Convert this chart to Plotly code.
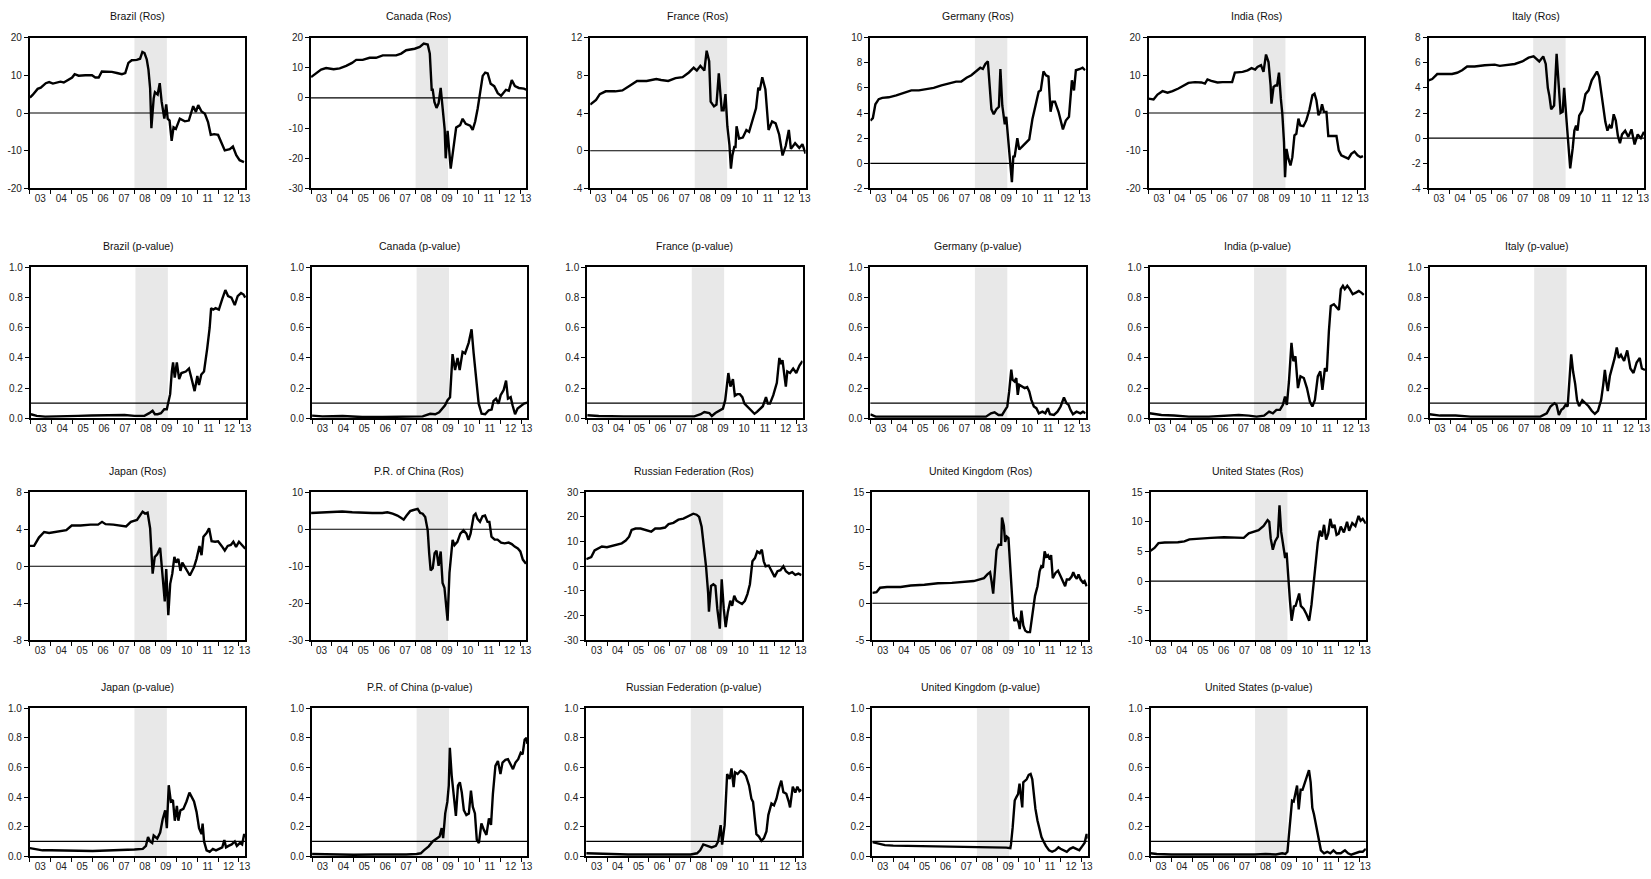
import plotly.graph_objects as go
from plotly.subplots import make_subplots

# crisis window shaded in every panel
crisis_start = 2008.0
crisis_end = 2009.55

years = list(range(2003, 2014))
year_labels = ["03", "04", "05", "06", "07", "08", "09", "10", "11", "12", "13"]

# ---- Ros series (time in years, value) ----
brazil_ros = [(2003.0, 4.1), (2003.13, 4.8), (2003.37, 6.4), (2003.52, 6.7), (2003.76, 7.9), (2003.92, 8.2),
              (2004.1, 7.8), (2004.3, 8.1), (2004.46, 8.3), (2004.62, 8.1), (2004.86, 9.0), (2005.02, 9.4),
              (2005.14, 10.3), (2005.33, 9.9), (2005.65, 10.0), (2005.97, 10.0), (2006.13, 9.4), (2006.29, 9.4),
              (2006.44, 11.0), (2006.68, 11.0), (2006.92, 10.9), (2007.16, 10.6), (2007.4, 10.3), (2007.56, 10.6),
              (2007.71, 13.3), (2007.87, 14.0), (2008.11, 14.1), (2008.27, 14.4), (2008.38, 16.2), (2008.48, 15.9),
              (2008.59, 14.2), (2008.67, 11.5), (2008.75, 6.5), (2008.81, -4.0), (2008.92, 3.9), (2008.98, 5.5),
              (2009.11, 4.9), (2009.21, 7.9), (2009.3, 3.0), (2009.43, -1.5), (2009.52, 2.3), (2009.59, -1.5),
              (2009.68, -2.0), (2009.78, -7.4), (2009.87, -3.8), (2009.98, -4.2), (2010.17, -1.5), (2010.41, -2.2),
              (2010.6, -2.0), (2010.81, 1.8), (2010.94, 0.3), (2011.05, 2.1), (2011.21, 0.4), (2011.37, -0.2),
              (2011.52, -2.4), (2011.65, -5.8), (2011.81, -5.6), (2012.0, -5.8), (2012.19, -8.3), (2012.32, -9.9),
              (2012.56, -9.6), (2012.71, -8.9), (2012.87, -11.2), (2013.03, -12.5), (2013.24, -13.0)]

canada_ros = [(2003.0, 6.9), (2003.24, 8.1), (2003.48, 9.4), (2003.72, 9.9), (2004.08, 9.5), (2004.37, 9.8),
              (2004.68, 10.6), (2004.96, 11.6), (2005.16, 12.6), (2005.47, 12.6), (2005.8, 13.3), (2006.11, 13.3),
              (2006.43, 14.1), (2006.76, 14.1), (2007.07, 14.1), (2007.31, 14.7), (2007.55, 15.8), (2007.96, 16.3),
              (2008.2, 16.9), (2008.39, 18.0), (2008.58, 17.7), (2008.68, 14.7), (2008.77, 2.7), (2008.82, 2.7),
              (2008.9, -1.3), (2009.0, -3.3), (2009.1, -1.8), (2009.2, 3.3), (2009.29, -3.3), (2009.39, -10.3),
              (2009.44, -20.0), (2009.53, -10.9), (2009.68, -23.4), (2009.82, -14.9), (2009.94, -9.8), (2010.13, -9.0),
              (2010.25, -6.9), (2010.4, -8.6), (2010.61, -9.2), (2010.73, -10.6), (2010.85, -7.8), (2010.97, -3.5),
              (2011.09, 2.2), (2011.21, 7.3), (2011.33, 8.4), (2011.45, 8.1), (2011.59, 4.7), (2011.76, 3.9),
              (2011.93, 1.6), (2012.09, 0.7), (2012.32, 2.7), (2012.46, 2.4), (2012.6, 5.9), (2012.75, 3.9),
              (2012.94, 3.3), (2013.18, 3.1), (2013.3, 2.7)]

france_ros = [(2003.0, 4.9), (2003.28, 5.4), (2003.46, 6.0), (2003.74, 6.3), (2004.2, 6.3), (2004.54, 6.4),
              (2004.89, 6.9), (2005.24, 7.4), (2005.7, 7.4), (2006.16, 7.6), (2006.39, 7.5), (2006.73, 7.4),
              (2007.08, 7.7), (2007.42, 7.8), (2007.72, 8.3), (2007.95, 8.8), (2008.1, 8.5), (2008.27, 9.0),
              (2008.46, 8.5), (2008.57, 10.6), (2008.69, 9.5), (2008.76, 5.2), (2008.92, 4.7), (2009.04, 4.9),
              (2009.15, 8.2), (2009.29, 4.3), (2009.38, 4.3), (2009.47, 6.0), (2009.56, 2.6), (2009.66, 0.6),
              (2009.73, -1.9), (2009.8, -0.5), (2009.89, 0.4), (2009.95, 0.4), (2010.0, 2.6), (2010.12, 1.3),
              (2010.3, 1.4), (2010.47, 2.2), (2010.6, 2.0), (2010.76, 3.3), (2010.93, 4.5), (2011.04, 6.7),
              (2011.11, 6.4), (2011.23, 7.8), (2011.38, 6.5), (2011.53, 2.2), (2011.7, 3.1), (2011.87, 2.9),
              (2012.04, 1.7), (2012.2, -0.5), (2012.35, 0.5), (2012.5, 2.2), (2012.6, 0.2), (2012.8, 0.8),
              (2013.0, 0.3), (2013.15, 0.7), (2013.3, -0.3)]

germany_ros = [(2003.0, 3.4), (2003.12, 3.6), (2003.24, 4.7), (2003.4, 5.1), (2003.57, 5.2), (2003.88, 5.25),
               (2004.24, 5.4), (2004.6, 5.6), (2004.96, 5.8), (2005.32, 5.8), (2005.68, 5.9), (2006.03, 6.0),
               (2006.4, 6.2), (2006.76, 6.35), (2007.1, 6.5), (2007.35, 6.5), (2007.6, 6.8), (2007.83, 7.0),
               (2008.07, 7.3), (2008.26, 7.6), (2008.38, 7.5), (2008.5, 7.9), (2008.62, 8.1), (2008.69, 6.7),
               (2008.79, 4.3), (2008.9, 3.9), (2009.03, 4.3), (2009.15, 4.5), (2009.22, 7.5), (2009.31, 4.6),
               (2009.43, 3.1), (2009.5, 3.7), (2009.58, 2.2), (2009.67, 0.1), (2009.77, -1.5), (2009.84, 0.6),
               (2009.9, 0.5), (2010.03, 2.0), (2010.12, 1.1), (2010.27, 1.35), (2010.46, 1.7), (2010.6, 1.9),
               (2010.75, 3.5), (2010.9, 4.6), (2011.05, 5.7), (2011.15, 5.8), (2011.28, 7.3), (2011.4, 7.0),
               (2011.52, 6.9), (2011.62, 4.1), (2011.71, 4.9), (2011.83, 4.9), (2012.0, 4.1), (2012.21, 2.7),
               (2012.35, 3.4), (2012.5, 3.7), (2012.64, 6.6), (2012.74, 5.8), (2012.83, 7.4), (2013.03, 7.5),
               (2013.15, 7.6), (2013.27, 7.4)]

india_ros = [(2003.0, 3.8), (2003.24, 3.6), (2003.43, 4.9), (2003.67, 5.8), (2003.91, 5.4), (2004.15, 5.8),
             (2004.43, 6.5), (2004.67, 7.3), (2004.91, 8.0), (2005.22, 8.2), (2005.53, 8.1), (2005.7, 7.8),
             (2005.82, 8.9), (2006.0, 8.5), (2006.3, 8.1), (2006.54, 8.2), (2006.78, 8.1), (2007.0, 8.2),
             (2007.13, 10.7), (2007.5, 10.9), (2007.74, 11.3), (2007.93, 11.9), (2008.1, 11.5), (2008.21, 12.2),
             (2008.38, 12.7), (2008.5, 10.9), (2008.62, 15.5), (2008.74, 13.5), (2008.84, 7.3), (2008.88, 2.5),
             (2008.98, 6.9), (2009.07, 7.3), (2009.15, 7.3), (2009.24, 10.7), (2009.33, 3.8), (2009.4, -0.2),
             (2009.48, -7.7), (2009.53, -17.0), (2009.6, -9.5), (2009.69, -12.1), (2009.79, -13.9), (2009.88, -11.7),
             (2009.98, -5.9), (2010.07, -5.5), (2010.17, -1.5), (2010.26, -3.3), (2010.41, -3.5), (2010.55, -1.9),
             (2010.7, 1.0), (2010.84, 4.7), (2010.94, 5.1), (2011.03, 3.4), (2011.13, -0.6), (2011.22, 0.3),
             (2011.3, 2.3), (2011.39, 0.3), (2011.51, 0.3), (2011.6, -6.1), (2011.8, -6.1), (2011.99, -6.1),
             (2012.1, -9.9), (2012.22, -11.2), (2012.4, -11.7), (2012.56, -12.1), (2012.7, -10.8), (2012.85, -10.2),
             (2013.0, -11.2), (2013.14, -11.7), (2013.26, -11.4)]

italy_ros = [(2003.0, 4.6), (2003.17, 4.7), (2003.41, 5.1), (2003.76, 5.1), (2004.12, 5.1), (2004.36, 5.2),
             (2004.6, 5.4), (2004.84, 5.7), (2005.2, 5.7), (2005.68, 5.8), (2006.16, 5.85), (2006.4, 5.75),
             (2006.76, 5.85), (2007.12, 5.9), (2007.48, 6.1), (2007.78, 6.4), (2008.02, 6.5), (2008.17, 6.3),
             (2008.29, 6.1), (2008.48, 6.5), (2008.6, 5.9), (2008.7, 4.0), (2008.77, 3.4), (2008.86, 2.3),
             (2009.0, 2.6), (2009.12, 6.7), (2009.24, 3.4), (2009.31, 2.0), (2009.41, 2.1), (2009.48, 4.0),
             (2009.6, 1.3), (2009.67, -0.3), (2009.77, -2.4), (2009.89, -0.8), (2009.97, 0.6), (2010.05, 1.0),
             (2010.12, 0.6), (2010.2, 1.8), (2010.35, 2.2), (2010.5, 3.5), (2010.65, 3.8), (2010.8, 4.6),
             (2010.95, 5.0), (2011.05, 5.3), (2011.15, 4.9), (2011.25, 3.8), (2011.35, 2.5), (2011.45, 1.3),
             (2011.55, 0.6), (2011.65, 1.0), (2011.75, 0.8), (2011.85, 1.9), (2011.95, 1.4), (2012.05, 0.2),
             (2012.15, -0.4), (2012.25, 0.3), (2012.4, 0.6), (2012.55, 0.1), (2012.7, 0.7), (2012.85, -0.5),
             (2013.0, 0.3), (2013.15, 0.0), (2013.3, 0.5)]

japan_ros = [(2003.0, 2.2), (2003.2, 2.2), (2003.43, 3.1), (2003.68, 3.7), (2003.92, 3.6), (2004.16, 3.7),
             (2004.45, 3.75), (2004.74, 3.9), (2005.0, 4.4), (2005.42, 4.4), (2005.9, 4.5), (2006.26, 4.5),
             (2006.45, 4.8), (2006.62, 4.55), (2006.99, 4.5), (2007.35, 4.4), (2007.6, 4.3), (2007.83, 4.8),
             (2008.12, 5.0), (2008.27, 5.5), (2008.39, 5.9), (2008.51, 5.7), (2008.63, 5.8), (2008.75, 4.1),
             (2008.87, -0.8), (2008.97, 1.0), (2009.09, 1.3), (2009.23, 2.0), (2009.33, -0.5), (2009.45, -3.8),
             (2009.52, -0.3), (2009.62, -5.3), (2009.71, -1.9), (2009.81, -0.8), (2009.91, 1.0), (2010.0, 0.4),
             (2010.1, 0.8), (2010.2, -0.5), (2010.29, 0.4), (2010.43, -0.1), (2010.65, -1.0), (2010.85, -0.1),
             (2010.97, 0.8), (2011.11, 2.2), (2011.21, 1.2), (2011.3, 3.2), (2011.45, 3.6), (2011.57, 4.1),
             (2011.69, 2.7), (2011.86, 2.65), (2012.0, 2.7), (2012.17, 2.2), (2012.32, 1.7), (2012.46, 2.2),
             (2012.61, 2.3), (2012.73, 2.65), (2012.86, 2.1), (2013.0, 2.65), (2013.14, 2.3), (2013.3, 1.9)]

china_ros = [(2003.0, 4.4), (2003.77, 4.6), (2004.49, 4.8), (2004.97, 4.6), (2005.45, 4.4), (2005.93, 4.4),
             (2006.41, 4.4), (2006.65, 4.6), (2006.9, 4.2), (2007.13, 3.7), (2007.3, 3.1), (2007.43, 2.6),
             (2007.57, 3.7), (2007.74, 4.9), (2007.9, 5.2), (2008.1, 5.5), (2008.22, 4.4), (2008.34, 4.2),
             (2008.46, 3.3), (2008.58, -0.3), (2008.65, -6.5), (2008.72, -11.1), (2008.82, -10.5), (2008.91, -6.5),
             (2009.0, -5.8), (2009.1, -9.9), (2009.2, -6.0), (2009.29, -14.5), (2009.38, -15.8), (2009.48, -20.7),
             (2009.53, -24.7), (2009.62, -11.8), (2009.77, -2.9), (2009.86, -4.3), (2010.0, -3.4), (2010.14, -1.2),
             (2010.29, -0.3), (2010.43, -1.2), (2010.53, -2.9), (2010.63, -1.2), (2010.78, 3.7), (2010.87, 4.2),
             (2010.96, 2.8), (2011.08, 2.0), (2011.2, 3.5), (2011.32, 3.7), (2011.44, 2.0), (2011.53, 2.0),
             (2011.63, -2.0), (2011.78, -2.8), (2011.92, -2.8), (2012.09, -3.6), (2012.26, -3.8), (2012.45, -3.6),
             (2012.6, -4.0), (2012.74, -4.7), (2012.89, -5.2), (2013.01, -6.0), (2013.13, -8.2), (2013.28, -9.3)]

russia_ros = [(2003.0, 2.9), (2003.24, 3.7), (2003.4, 6.4), (2003.59, 7.3), (2003.75, 8.0), (2003.99, 7.7),
              (2004.23, 8.3), (2004.51, 9.1), (2004.7, 9.3), (2004.89, 10.4), (2005.05, 12.0), (2005.17, 14.7),
              (2005.36, 15.3), (2005.6, 15.3), (2005.88, 14.7), (2006.11, 14.0), (2006.3, 15.3), (2006.54, 15.3),
              (2006.77, 15.7), (2006.94, 17.1), (2007.17, 17.6), (2007.41, 18.9), (2007.65, 19.3), (2007.81, 20.0),
              (2007.95, 20.9), (2008.12, 21.3), (2008.28, 20.9), (2008.4, 20.0), (2008.52, 16.0), (2008.64, 8.0),
              (2008.73, 0.0), (2008.83, -10.7), (2008.87, -18.4), (2008.97, -8.0), (2009.08, -7.3), (2009.18, -8.0),
              (2009.27, -17.3), (2009.39, -25.3), (2009.48, -5.3), (2009.58, -17.3), (2009.67, -24.7), (2009.77, -18.7),
              (2009.89, -14.0), (2009.98, -16.0), (2010.08, -12.0), (2010.19, -14.0), (2010.31, -14.7), (2010.45, -15.3),
              (2010.59, -14.0), (2010.71, -11.3), (2010.83, -7.3), (2010.95, 2.0), (2011.07, 3.3), (2011.18, 6.0),
              (2011.3, 5.3), (2011.4, 6.7), (2011.49, 2.0), (2011.58, 0.0), (2011.73, 0.3), (2011.89, -2.0),
              (2012.01, -4.3), (2012.15, -2.0), (2012.29, -1.6), (2012.43, 0.0), (2012.55, -2.0), (2012.7, -3.0),
              (2012.85, -2.4), (2013.0, -3.5), (2013.15, -3.0), (2013.3, -3.6)]

uk_ros = [(2003.0, 1.4), (2003.2, 1.5), (2003.37, 2.1), (2003.7, 2.2), (2004.35, 2.2), (2004.84, 2.4),
          (2005.49, 2.5), (2006.14, 2.7), (2006.8, 2.75), (2007.45, 2.85), (2007.85, 3.0), (2008.1, 3.2),
          (2008.34, 3.4), (2008.5, 3.9), (2008.63, 4.2), (2008.7, 3.0), (2008.78, 1.3), (2008.88, 5.0),
          (2008.94, 7.2), (2009.04, 7.9), (2009.16, 7.9), (2009.2, 11.6), (2009.29, 10.5), (2009.35, 8.3),
          (2009.43, 9.0), (2009.51, 8.8), (2009.6, 5.0), (2009.66, 1.4), (2009.73, -1.2), (2009.79, -2.4),
          (2009.89, -2.1), (2009.99, -2.6), (2010.05, -3.5), (2010.13, -1.0), (2010.22, -3.0), (2010.31, -3.7),
          (2010.41, -3.9), (2010.54, -3.9), (2010.65, -1.9), (2010.78, 1.0), (2010.9, 2.3), (2011.0, 4.3),
          (2011.08, 5.0), (2011.16, 4.8), (2011.24, 7.0), (2011.32, 6.3), (2011.4, 6.5), (2011.49, 5.9),
          (2011.55, 6.5), (2011.63, 3.4), (2011.76, 4.1), (2011.88, 4.4), (2012.01, 3.6), (2012.14, 2.7),
          (2012.22, 2.3), (2012.3, 3.2), (2012.42, 3.2), (2012.53, 3.6), (2012.61, 4.2), (2012.7, 3.6),
          (2012.78, 3.3), (2012.86, 3.9), (2012.96, 3.2), (2013.07, 2.8), (2013.15, 3.0), (2013.25, 2.3)]

us_ros = [(2003.0, 5.1), (2003.19, 5.6), (2003.38, 6.4), (2003.68, 6.5), (2004.31, 6.55), (2004.62, 6.7),
          (2004.86, 7.05), (2005.26, 7.1), (2005.89, 7.3), (2006.52, 7.4), (2007.15, 7.3), (2007.46, 7.3),
          (2007.7, 8.05), (2007.94, 8.3), (2008.17, 8.6), (2008.41, 9.3), (2008.6, 10.3), (2008.68, 10.0),
          (2008.75, 7.2), (2008.85, 5.3), (2008.96, 6.7), (2009.09, 7.5), (2009.17, 12.8), (2009.25, 8.3),
          (2009.36, 6.1), (2009.44, 3.9), (2009.51, 4.8), (2009.59, 0.0), (2009.67, -3.3), (2009.75, -6.7),
          (2009.86, -4.3), (2009.94, -4.2), (2010.11, -2.1), (2010.19, -4.2), (2010.33, -4.7), (2010.46, -5.6),
          (2010.59, -6.7), (2010.7, -4.0), (2010.85, 1.0), (2011.0, 6.5), (2011.1, 8.5), (2011.2, 7.5),
          (2011.3, 9.5), (2011.4, 7.0), (2011.5, 8.0), (2011.6, 10.5), (2011.7, 9.0), (2011.8, 9.5),
          (2011.9, 7.8), (2012.0, 8.0), (2012.1, 9.2), (2012.25, 8.2), (2012.4, 10.0), (2012.5, 8.5),
          (2012.65, 9.8), (2012.8, 9.3), (2012.95, 11.0), (2013.05, 10.2), (2013.15, 10.5), (2013.3, 9.7)]

# ---- p-value series ----
brazil_p = [(2003.0, 0.027), (2003.28, 0.016), (2003.68, 0.011), (2004.63, 0.011), (2005.26, 0.016), (2005.9, 0.018),
            (2006.69, 0.02), (2007.48, 0.022), (2007.95, 0.016), (2008.43, 0.016), (2008.66, 0.034), (2008.82, 0.05),
            (2008.93, 0.027), (2009.06, 0.027), (2009.22, 0.034), (2009.38, 0.06), (2009.5, 0.06), (2009.58, 0.11),
            (2009.66, 0.16), (2009.74, 0.31), (2009.8, 0.37), (2009.88, 0.27), (2009.98, 0.37), (2010.09, 0.26),
            (2010.2, 0.30), (2010.41, 0.31), (2010.56, 0.33), (2010.67, 0.27), (2010.83, 0.18), (2010.96, 0.28),
            (2011.04, 0.22), (2011.15, 0.29), (2011.28, 0.31), (2011.43, 0.46), (2011.55, 0.60), (2011.62, 0.73),
            (2011.72, 0.72), (2011.83, 0.73), (2011.99, 0.72), (2012.15, 0.79), (2012.3, 0.85), (2012.43, 0.81),
            (2012.59, 0.80), (2012.75, 0.75), (2012.89, 0.81), (2013.05, 0.83), (2013.17, 0.82), (2013.25, 0.80)]

canada_p = [(2003.0, 0.018), (2003.5, 0.013), (2004.46, 0.015), (2005.4, 0.009), (2006.37, 0.009), (2007.33, 0.009),
            (2008.29, 0.013), (2008.65, 0.03), (2008.89, 0.027), (2009.08, 0.04), (2009.24, 0.064), (2009.36, 0.086),
            (2009.48, 0.12), (2009.6, 0.14), (2009.72, 0.425), (2009.84, 0.32), (2009.96, 0.40), (2010.06, 0.32),
            (2010.2, 0.44), (2010.32, 0.43), (2010.49, 0.50), (2010.63, 0.59), (2010.73, 0.43), (2010.85, 0.285),
            (2010.97, 0.097), (2011.11, 0.03), (2011.28, 0.027), (2011.45, 0.053), (2011.59, 0.058), (2011.68, 0.115),
            (2011.8, 0.13), (2011.92, 0.097), (2012.02, 0.153), (2012.16, 0.186), (2012.28, 0.25), (2012.37, 0.13),
            (2012.5, 0.14), (2012.59, 0.086), (2012.71, 0.027), (2012.83, 0.064), (2013.0, 0.08), (2013.14, 0.097),
            (2013.29, 0.104)]

france_p = [(2003.0, 0.02), (2003.55, 0.015), (2004.75, 0.013), (2006.2, 0.011), (2007.4, 0.013), (2008.12, 0.013),
            (2008.43, 0.027), (2008.6, 0.042), (2008.84, 0.035), (2008.96, 0.015), (2009.13, 0.035), (2009.32, 0.053),
            (2009.49, 0.064), (2009.6, 0.12), (2009.75, 0.30), (2009.85, 0.21), (2009.97, 0.26), (2010.06, 0.15),
            (2010.18, 0.16), (2010.3, 0.16), (2010.42, 0.14), (2010.52, 0.097), (2010.69, 0.075), (2010.83, 0.053),
            (2011.0, 0.03), (2011.12, 0.042), (2011.28, 0.064), (2011.4, 0.08), (2011.55, 0.14), (2011.64, 0.097),
            (2011.74, 0.097), (2011.9, 0.153), (2012.07, 0.235), (2012.19, 0.40), (2012.26, 0.36), (2012.34, 0.385),
            (2012.43, 0.285), (2012.5, 0.21), (2012.57, 0.31), (2012.7, 0.30), (2012.85, 0.33), (2013.0, 0.30),
            (2013.15, 0.35), (2013.3, 0.38)]

germany_p = [(2003.0, 0.027), (2003.25, 0.011), (2003.97, 0.011), (2005.17, 0.011), (2006.37, 0.007), (2007.33, 0.011),
             (2008.05, 0.011), (2008.53, 0.011), (2008.77, 0.033), (2008.94, 0.04), (2009.13, 0.022), (2009.3, 0.022),
             (2009.45, 0.056), (2009.55, 0.078), (2009.64, 0.178), (2009.74, 0.322), (2009.8, 0.256), (2009.9, 0.244),
             (2009.98, 0.267), (2010.05, 0.155), (2010.12, 0.222), (2010.26, 0.211), (2010.38, 0.20), (2010.5, 0.207),
             (2010.6, 0.178), (2010.7, 0.122), (2010.82, 0.078), (2010.94, 0.067), (2011.06, 0.033), (2011.23, 0.044),
             (2011.37, 0.033), (2011.49, 0.067), (2011.59, 0.027), (2011.78, 0.022), (2011.95, 0.044), (2012.1, 0.078),
             (2012.26, 0.138), (2012.38, 0.10), (2012.48, 0.089), (2012.57, 0.056), (2012.69, 0.027), (2012.86, 0.044),
             (2013.05, 0.033), (2013.17, 0.044), (2013.29, 0.033)]

india_p = [(2003.0, 0.033), (2003.26, 0.027), (2003.57, 0.022), (2004.17, 0.018), (2004.88, 0.011), (2005.84, 0.011),
           (2006.56, 0.018), (2007.27, 0.022), (2007.75, 0.018), (2008.12, 0.011), (2008.48, 0.018), (2008.72, 0.044),
           (2008.9, 0.033), (2009.07, 0.056), (2009.24, 0.056), (2009.38, 0.089), (2009.48, 0.144), (2009.57, 0.089),
           (2009.67, 0.244), (2009.79, 0.50), (2009.88, 0.378), (2009.98, 0.411), (2010.1, 0.20), (2010.22, 0.278),
           (2010.38, 0.267), (2010.53, 0.20), (2010.67, 0.111), (2010.79, 0.078), (2010.91, 0.122), (2011.05, 0.278),
           (2011.17, 0.311), (2011.27, 0.189), (2011.39, 0.333), (2011.48, 0.311), (2011.58, 0.578), (2011.67, 0.744),
           (2011.82, 0.756), (2011.94, 0.733), (2012.06, 0.718), (2012.15, 0.856), (2012.25, 0.878), (2012.34, 0.856),
           (2012.46, 0.878), (2012.58, 0.856), (2012.72, 0.822), (2012.87, 0.833), (2013.01, 0.844), (2013.13, 0.833),
           (2013.25, 0.818)]

italy_p = [(2003.0, 0.027), (2003.5, 0.018), (2004.24, 0.018), (2004.95, 0.011), (2006.15, 0.011), (2007.35, 0.011),
           (2008.3, 0.011), (2008.6, 0.033), (2008.78, 0.078), (2008.97, 0.10), (2009.07, 0.089), (2009.18, 0.022),
           (2009.3, 0.056), (2009.4, 0.067), (2009.5, 0.089), (2009.6, 0.078), (2009.7, 0.30), (2009.77, 0.424),
           (2009.86, 0.31), (2009.96, 0.228), (2010.05, 0.12), (2010.15, 0.08), (2010.3, 0.12), (2010.45, 0.10),
           (2010.6, 0.08), (2010.75, 0.05), (2010.9, 0.03), (2011.05, 0.05), (2011.2, 0.12), (2011.3, 0.22),
           (2011.38, 0.32), (2011.45, 0.24), (2011.52, 0.18), (2011.62, 0.28), (2011.72, 0.33), (2011.85, 0.40),
           (2011.95, 0.47), (2012.05, 0.40), (2012.15, 0.42), (2012.3, 0.38), (2012.45, 0.45), (2012.6, 0.33),
           (2012.75, 0.30), (2012.9, 0.37), (2013.05, 0.40), (2013.15, 0.33), (2013.3, 0.32)]

japan_p = [(2003.0, 0.055), (2003.3, 0.045), (2003.6, 0.04), (2004.0, 0.04), (2005.0, 0.035), (2006.0, 0.035),
           (2007.0, 0.04), (2007.5, 0.04), (2008.0, 0.045), (2008.4, 0.05), (2008.55, 0.07), (2008.65, 0.13),
           (2008.75, 0.10), (2008.85, 0.09), (2008.92, 0.14), (2009.09, 0.12), (2009.23, 0.16), (2009.35, 0.25),
           (2009.47, 0.31), (2009.55, 0.19), (2009.64, 0.48), (2009.74, 0.37), (2009.84, 0.38), (2009.93, 0.24),
           (2010.03, 0.34), (2010.1, 0.24), (2010.2, 0.31), (2010.34, 0.32), (2010.49, 0.37), (2010.63, 0.43),
           (2010.73, 0.40), (2010.85, 0.37), (2010.97, 0.30), (2011.09, 0.19), (2011.21, 0.15), (2011.26, 0.22),
           (2011.33, 0.10), (2011.45, 0.04), (2011.6, 0.03), (2011.75, 0.05), (2011.9, 0.04), (2012.05, 0.05),
           (2012.2, 0.06), (2012.3, 0.11), (2012.38, 0.06), (2012.5, 0.07), (2012.65, 0.08), (2012.8, 0.10),
           (2012.9, 0.07), (2013.05, 0.09), (2013.15, 0.08), (2013.25, 0.15), (2013.3, 0.13)]

china_p = [(2003.0, 0.015), (2004.0, 0.01), (2005.0, 0.01), (2006.0, 0.012), (2007.0, 0.01), (2007.5, 0.012),
           (2008.0, 0.015), (2008.2, 0.02), (2008.35, 0.04), (2008.58, 0.067), (2008.77, 0.10), (2008.96, 0.122),
           (2009.1, 0.133), (2009.2, 0.19), (2009.27, 0.122), (2009.37, 0.29), (2009.47, 0.367), (2009.54, 0.478),
           (2009.59, 0.733), (2009.68, 0.544), (2009.78, 0.389), (2009.88, 0.273), (2009.98, 0.478), (2010.07, 0.50),
           (2010.16, 0.433), (2010.26, 0.311), (2010.38, 0.278), (2010.5, 0.289), (2010.6, 0.444), (2010.69, 0.333),
           (2010.79, 0.289), (2010.88, 0.111), (2010.98, 0.089), (2011.1, 0.222), (2011.22, 0.178), (2011.34, 0.144),
           (2011.46, 0.256), (2011.56, 0.211), (2011.65, 0.422), (2011.77, 0.611), (2011.89, 0.644), (2012.01, 0.556),
           (2012.11, 0.633), (2012.25, 0.651), (2012.37, 0.656), (2012.49, 0.617), (2012.61, 0.589), (2012.73, 0.633),
           (2012.86, 0.656), (2012.98, 0.70), (2013.07, 0.689), (2013.17, 0.789), (2013.26, 0.80), (2013.3, 0.76)]

russia_p = [(2003.0, 0.02), (2004.0, 0.015), (2005.0, 0.012), (2006.0, 0.012), (2007.0, 0.012), (2008.0, 0.012),
            (2008.3, 0.02), (2008.45, 0.04), (2008.6, 0.08), (2009.0, 0.06), (2009.2, 0.07), (2009.31, 0.10),
            (2009.43, 0.21), (2009.5, 0.078), (2009.62, 0.21), (2009.74, 0.556), (2009.86, 0.522), (2009.95, 0.593),
            (2010.05, 0.467), (2010.12, 0.567), (2010.24, 0.556), (2010.38, 0.578), (2010.52, 0.567), (2010.64, 0.544),
            (2010.79, 0.478), (2010.9, 0.389), (2010.98, 0.367), (2011.07, 0.256), (2011.14, 0.149), (2011.26, 0.133),
            (2011.38, 0.104), (2011.5, 0.122), (2011.62, 0.167), (2011.71, 0.278), (2011.86, 0.356), (2011.98, 0.344),
            (2012.1, 0.389), (2012.21, 0.456), (2012.33, 0.511), (2012.43, 0.433), (2012.57, 0.422), (2012.69, 0.367),
            (2012.75, 0.33), (2012.88, 0.47), (2013.0, 0.43), (2013.1, 0.47), (2013.2, 0.44), (2013.3, 0.45)]

uk_p = [(2003.0, 0.095), (2003.15, 0.09), (2003.3, 0.08), (2003.6, 0.075), (2004.0, 0.072), (2005.0, 0.07),
        (2006.0, 0.068), (2007.0, 0.066), (2008.0, 0.064), (2008.6, 0.062), (2009.0, 0.06), (2009.4, 0.058),
        (2009.6, 0.055), (2009.63, 0.08), (2009.71, 0.193), (2009.81, 0.376), (2009.89, 0.40), (2009.97, 0.42),
        (2010.04, 0.49), (2010.12, 0.41), (2010.17, 0.33), (2010.22, 0.50), (2010.3, 0.51), (2010.38, 0.52),
        (2010.48, 0.55), (2010.57, 0.556), (2010.65, 0.52), (2010.72, 0.43), (2010.8, 0.32), (2010.9, 0.24),
        (2011.0, 0.17), (2011.09, 0.13), (2011.19, 0.10), (2011.3, 0.07), (2011.45, 0.04), (2011.6, 0.03),
        (2011.75, 0.04), (2011.9, 0.06), (2012.0, 0.05), (2012.15, 0.04), (2012.3, 0.03), (2012.45, 0.05),
        (2012.6, 0.06), (2012.75, 0.05), (2012.9, 0.04), (2013.05, 0.07), (2013.15, 0.09), (2013.25, 0.15),
        (2013.3, 0.12)]

us_p = [(2003.0, 0.02), (2003.3, 0.015), (2004.0, 0.012), (2005.0, 0.01), (2006.0, 0.012), (2007.0, 0.012),
        (2007.5, 0.01), (2008.0, 0.012), (2008.5, 0.015), (2009.0, 0.012), (2009.3, 0.02), (2009.45, 0.015),
        (2009.55, 0.03), (2009.66, 0.193), (2009.77, 0.376), (2009.85, 0.37), (2009.93, 0.427), (2010.01, 0.478),
        (2010.09, 0.316), (2010.18, 0.449), (2010.27, 0.449), (2010.35, 0.482), (2010.47, 0.527), (2010.58, 0.582),
        (2010.66, 0.50), (2010.74, 0.327), (2010.82, 0.282), (2010.95, 0.193), (2011.05, 0.10), (2011.15, 0.04),
        (2011.3, 0.02), (2011.45, 0.03), (2011.6, 0.02), (2011.75, 0.04), (2011.9, 0.02), (2012.1, 0.02),
        (2012.3, 0.04), (2012.45, 0.02), (2012.6, 0.01), (2012.8, 0.02), (2013.0, 0.03), (2013.15, 0.03),
        (2013.3, 0.05)]

p_ticks = [0.0, 0.2, 0.4, 0.6, 0.8, 1.0]

# title, series, y ticks, reference line, grid row, grid col
panels = [
    ("Brazil (Ros)", brazil_ros, [-20, -10, 0, 10, 20], 0, 1, 1),
    ("Canada (Ros)", canada_ros, [-30, -20, -10, 0, 10, 20], 0, 1, 2),
    ("France (Ros)", france_ros, [-4, 0, 4, 8, 12], 0, 1, 3),
    ("Germany (Ros)", germany_ros, [-2, 0, 2, 4, 6, 8, 10], 0, 1, 4),
    ("India (Ros)", india_ros, [-20, -10, 0, 10, 20], 0, 1, 5),
    ("Italy (Ros)", italy_ros, [-4, -2, 0, 2, 4, 6, 8], 0, 1, 6),
    ("Brazil (p-value)", brazil_p, p_ticks, 0.1, 2, 1),
    ("Canada (p-value)", canada_p, p_ticks, 0.1, 2, 2),
    ("France (p-value)", france_p, p_ticks, 0.1, 2, 3),
    ("Germany (p-value)", germany_p, p_ticks, 0.1, 2, 4),
    ("India (p-value)", india_p, p_ticks, 0.1, 2, 5),
    ("Italy (p-value)", italy_p, p_ticks, 0.1, 2, 6),
    ("Japan (Ros)", japan_ros, [-8, -4, 0, 4, 8], 0, 3, 1),
    ("P.R. of China (Ros)", china_ros, [-30, -20, -10, 0, 10], 0, 3, 2),
    ("Russian Federation (Ros)", russia_ros, [-30, -20, -10, 0, 10, 20, 30], 0, 3, 3),
    ("United Kingdom (Ros)", uk_ros, [-5, 0, 5, 10, 15], 0, 3, 4),
    ("United States (Ros)", us_ros, [-10, -5, 0, 5, 10, 15], 0, 3, 5),
    ("Japan (p-value)", japan_p, p_ticks, 0.1, 4, 1),
    ("P.R. of China (p-value)", china_p, p_ticks, 0.1, 4, 2),
    ("Russian Federation (p-value)", russia_p, p_ticks, 0.1, 4, 3),
    ("United Kingdom (p-value)", uk_p, p_ticks, 0.1, 4, 4),
    ("United States (p-value)", us_p, p_ticks, 0.1, 4, 5),
]

W, H = 1651, 879
# left edge (px) of each panel frame, per grid row
col_left = [
    [30, 312, 592, 873, 1152, 1433],
    [31, 313, 589, 873, 1153, 1434],
    [30, 312, 588, 875, 1154, 1434],
    [30, 313, 588, 875, 1154, 1434],
]
panel_w = 216
row_top = [32, 265, 493, 712]
row_h = [153, 153, 150, 150]

font_family = "Liberation Sans Narrow, Liberation Sans, Arial, sans-serif"

fig = make_subplots(rows=4, cols=6)

for title, series, yticks, ref, r, c in panels:
    t = [p[0] for p in series]
    v = [p[1] for p in series]
    left = col_left[r - 1][c - 1]
    x0 = left / W
    x1 = (left + panel_w) / W
    y1 = 1 - row_top[r - 1] / H
    y0 = 1 - (row_top[r - 1] + row_h[r - 1]) / H

    fig.add_trace(go.Scatter(x=t, y=v, mode="lines", line=dict(color="black", width=2.4),
                             showlegend=False, hoverinfo="skip"), row=r, col=c)
    fig.add_vrect(x0=crisis_start, x1=crisis_end, fillcolor="#e8e8e8", opacity=1,
                  line_width=0, layer="below", row=r, col=c)
    fig.add_hline(y=ref, line=dict(color="black", width=1.2), layer="below", row=r, col=c)

    if ref == 0.1:
        ylabels = ["%.1f" % y for y in yticks]
    else:
        ylabels = [str(y) for y in yticks]
    fig.update_yaxes(domain=[y0, y1], range=[yticks[0], yticks[-1]], tickvals=yticks, ticktext=ylabels,
                     ticks="outside", ticklen=4, tickwidth=1, tickcolor="black",
                     showline=True, mirror=True, linecolor="black", linewidth=2,
                     showgrid=False, zeroline=False, tickfont=dict(size=10, color="#222"),
                     row=r, col=c)
    fig.update_xaxes(domain=[x0, x1], range=[2003.0, 2013.3],
                     tickvals=[y + 0.5 for y in years[:-1]] + [2013.27], ticktext=year_labels,
                     ticks="", showline=True, mirror=True, linecolor="black", linewidth=2,
                     showgrid=False, zeroline=False, tickfont=dict(size=10, color="#222"),
                     minor=dict(tickvals=years, ticks="outside", ticklen=4, tickwidth=1, tickcolor="black"),
                     row=r, col=c)
    fig.add_annotation(text=title, x=(x0 + x1) / 2, y=y1 + 22 / H, xref="paper", yref="paper",
                       showarrow=False, font=dict(size=10.5, color="#111"), xanchor="center", yanchor="middle")

# hide the unused cells
for r, c in [(3, 6), (4, 6)]:
    fig.update_xaxes(visible=False, row=r, col=c)
    fig.update_yaxes(visible=False, row=r, col=c)

fig.update_layout(width=W, height=H, margin=dict(l=0, r=0, t=0, b=0),
                  paper_bgcolor="white", plot_bgcolor="white",
                  font=dict(family=font_family, size=10, color="#222"))

fig.write_html("out.html", config={"displayModeBar": False},
               post_script="document.body.style.margin='0px';")
